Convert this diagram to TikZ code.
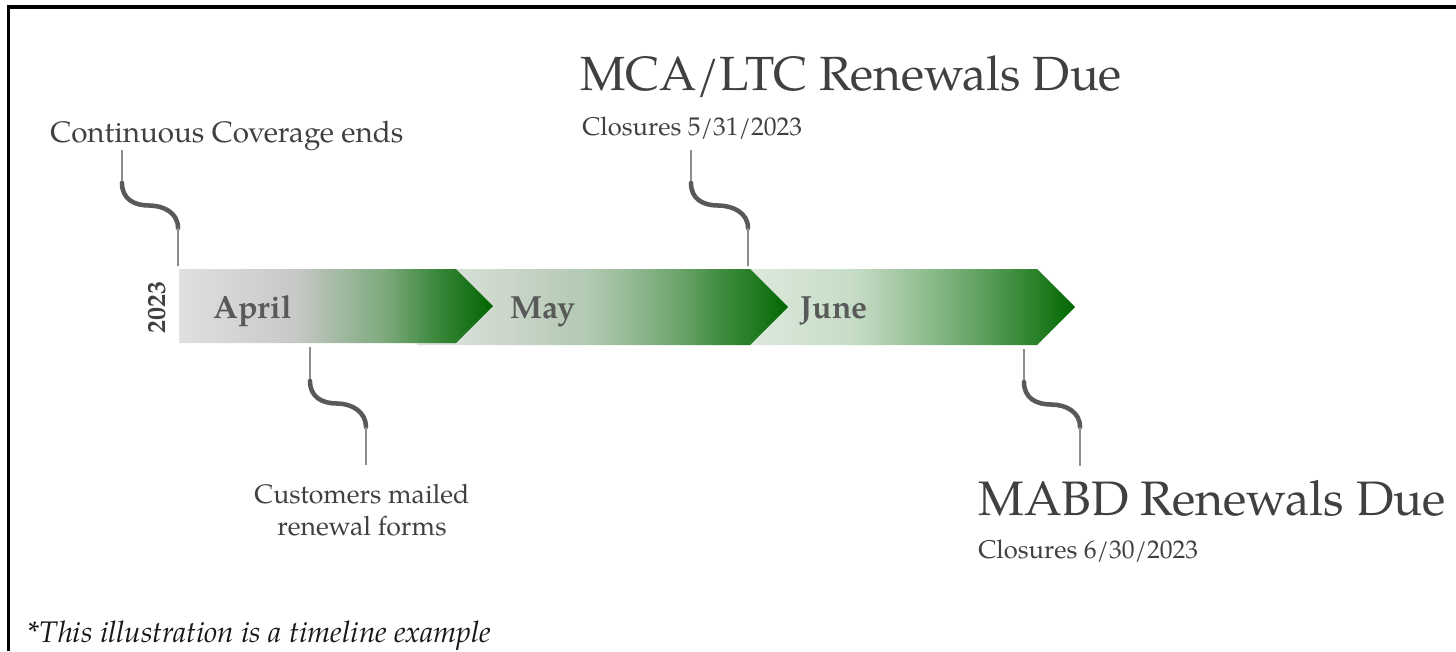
\documentclass[tikz,border=0pt]{standalone}
\usepackage{fontspec}
\setmainfont{TeX Gyre Pagella}
\definecolor{txt}{HTML}{404040}
\definecolor{mon}{HTML}{595959}
\definecolor{wav}{HTML}{595959}
\definecolor{thin}{HTML}{8C8C8C}
\definecolor{a0}{HTML}{E0E1DF}
\definecolor{a1}{HTML}{C5C8C4}
\definecolor{a2}{HTML}{A7BBA6}
\definecolor{a3}{HTML}{7FAB7F}
\definecolor{a4}{HTML}{3F8A3F}
\definecolor{a5}{HTML}{1A741A}
\definecolor{gtip}{HTML}{006600}
\definecolor{m0}{HTML}{D8E0D8}
\definecolor{m1}{HTML}{CDD8CC}
\definecolor{m2}{HTML}{B0C8B0}
\definecolor{m3}{HTML}{8DB58D}
\definecolor{m4}{HTML}{6AA46A}
\definecolor{m5}{HTML}{3F8C3F}
\definecolor{m6}{HTML}{1F7A1F}
\definecolor{j0}{HTML}{DDE9DD}
\definecolor{j1}{HTML}{C7DDC7}
\definecolor{j2}{HTML}{B5D1B5}
\definecolor{j3}{HTML}{8BBB8B}
\definecolor{j4}{HTML}{5FA05F}
\definecolor{j5}{HTML}{2E842E}
% path box maps to 25bp..75bp
\pgfdeclarehorizontalshading{aprilsh}{100bp}{color(0bp)=(a0); color(25bp)=(a0); color(44.25bp)=(a1); color(49.5bp)=(a2); color(57.5bp)=(a3); color(65.5bp)=(a4); color(71bp)=(a5); color(75bp)=(gtip); color(100bp)=(gtip)}
\pgfdeclarehorizontalshading{maysh}{100bp}{color(0bp)=(m0); color(25bp)=(m0); color(30bp)=(m0); color(36bp)=(m1); color(48.5bp)=(m2); color(55bp)=(m3); color(60.5bp)=(m4); color(66bp)=(m5); color(71bp)=(m6); color(75bp)=(gtip); color(100bp)=(gtip)}
\pgfdeclarehorizontalshading{junesh}{100bp}{color(0bp)=(j0); color(25bp)=(j0); color(30.5bp)=(j0); color(44bp)=(j1); color(48bp)=(j2); color(55bp)=(j3); color(62bp)=(j4); color(69bp)=(j5); color(75bp)=(gtip); color(100bp)=(gtip)}
\tikzset{
  lbl/.style={inner sep=0pt, text=txt},
  monlbl/.style={inner sep=0pt, text=mon, font=\fontsize{24}{27}\selectfont\bfseries, anchor=base west},
  thinline/.style={draw=thin, line width=1.1pt},
  wavy/.style={draw=wav, line width=3.4pt, line cap=round},
}
\begin{document}
\begin{tikzpicture}[x=0.75pt, y=-0.75pt]
\useasboundingbox (0,0) rectangle (1456,651);
% frame
\draw[line width=2.4pt, black] (8.5,651) -- (8.5,7) -- (1456,7);
% chevrons (back to front)
\path[shading=junesh] (712,269) -- (1037,269) -- (1075,307) -- (1037,345) -- (712,345) -- cycle;
\path[shading=maysh] (417,269) -- (750,269) -- (788,307) -- (750,345) -- (417,345) -- cycle;
\path[shading=aprilsh] (179,269) -- (456,269) -- (493,306) -- (456,343) -- (179,343) -- cycle;
% month labels
\node[monlbl] (apr) at (213,318) {April};
\node[monlbl] (may) at (510,318) {May};
\node[monlbl] (jun) at (800,318) {June};
\node[lbl, rotate=90, font=\fontsize{19.5}{22}\selectfont\bfseries, anchor=center] (yr) at (157,307) {2023};
% labels
\node[lbl, anchor=base west, font=\fontsize{22.2}{26}\selectfont] (cce) at (50,142) {Continuous Coverage ends};
\node[lbl, anchor=base west, font=\fontsize{36}{40}\selectfont] (mca) at (580,90) {MCA/LTC Renewals Due};
\node[lbl, anchor=base west, font=\fontsize{19.2}{22}\selectfont] (mcacl) at (582,135) {Closures 5/31/2023};
\node[lbl, anchor=base, align=center, font=\fontsize{20}{24}\selectfont] (cust) at (362,535) {Customers mailed\\renewal forms};
\node[lbl, anchor=base west, font=\fontsize{36.3}{40}\selectfont] (mabd) at (978,515) {MABD Renewals Due};
\node[lbl, anchor=base west, font=\fontsize{19.2}{22}\selectfont] (mabdcl) at (978,558) {Closures 6/30/2023};
\node[inner sep=0pt, anchor=base west, text=black!90, font=\fontsize{22.3}{24}\selectfont\itshape] (foot) at (28,642) {*This illustration is a timeline example};
% leader 1: Continuous Coverage ends
\coordinate (l1a) at (122,150); \coordinate (l1b) at (122,183);
\coordinate (l1m) at (149,205.5); \coordinate (l1c) at (178,228); \coordinate (l1d) at (178,266);
\draw[thinline] (l1a) -- (l1b);
\draw[wavy] (l1b) .. controls +(0,16) and +(-15,0) .. (l1m) .. controls +(15,0) and +(0,-15) .. (l1c);
\draw[thinline] (l1c) -- (l1d);
% leader 2: Customers mailed
\coordinate (l2a) at (310,347); \coordinate (l2b) at (310,381);
\coordinate (l2m) at (337,403.5); \coordinate (l2c) at (366,427); \coordinate (l2d) at (366,465);
\draw[thinline] (l2a) -- (l2b);
\draw[wavy] (l2b) .. controls +(0,16) and +(-15,0) .. (l2m) .. controls +(15,0) and +(0,-15) .. (l2c);
\draw[thinline] (l2c) -- (l2d);
% leader 3: MCA/LTC
\coordinate (l3a) at (691,150); \coordinate (l3b) at (691,183);
\coordinate (l3m) at (718,205.5); \coordinate (l3c) at (748,228); \coordinate (l3d) at (748,266);
\draw[thinline] (l3a) -- (l3b);
\draw[wavy] (l3b) .. controls +(0,16) and +(-15,0) .. (l3m) .. controls +(15,0) and +(0,-15) .. (l3c);
\draw[thinline] (l3c) -- (l3d);
% leader 4: MABD
\coordinate (l4a) at (1024,349); \coordinate (l4b) at (1024,382);
\coordinate (l4m) at (1051,404.5); \coordinate (l4c) at (1080,427); \coordinate (l4d) at (1080,466);
\draw[thinline] (l4a) -- (l4b);
\draw[wavy] (l4b) .. controls +(0,16) and +(-15,0) .. (l4m) .. controls +(15,0) and +(0,-15) .. (l4c);
\draw[thinline] (l4c) -- (l4d);
\end{tikzpicture}
\end{document}
